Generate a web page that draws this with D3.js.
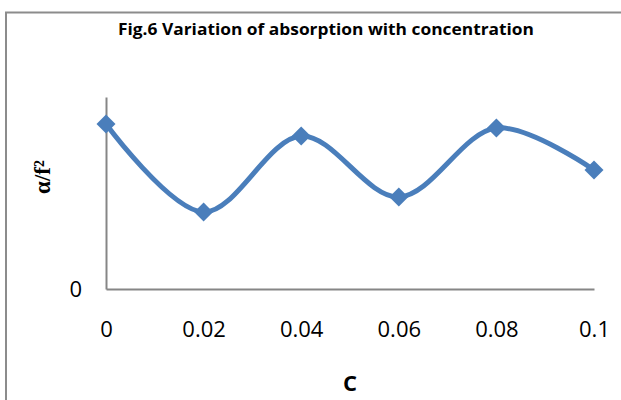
<!DOCTYPE html>
<html>
<head>
<meta charset="utf-8">
<script src="https://cdn.jsdelivr.net/npm/d3@7"></script>
<style>
  body { margin: 0; background: #fff; }
  svg { display: block; }
</style>
</head>
<body>
<div id="chart"></div>
<script>
// --- data (y units are arbitrary, the source shows only 0) ---
const conc = [0, 0.02, 0.04, 0.06, 0.08, 0.1];
const absorption = [10.31, 4.81, 9.56, 5.75, 10.06, 7.44];
const xTicks = [0, 0.02, 0.04, 0.06, 0.08, 0.1];
const xTickLabels = ['0', '0.02', '0.04', '0.06', '0.08', '0.1'];
const yTicks = [0];
const yMax = 12;

// --- sizing ---
const W = 621, H = 400;
const margin = { top: 97, right: 27, bottom: 111, left: 106 };
const width = W - margin.left - margin.right;
const height = H - margin.top - margin.bottom;

const blue = '#4a7ebb';
const axisGrey = '#868686';
const sans = '"Open Sans", sans-serif';

const svg = d3.select('#chart').append('svg')
  .attr('width', W)
  .attr('height', H);

// outer frame of the chart area
svg.append('path')
  .attr('d', `M6,${H + 5} V12.5 H${W + 5}`)
  .attr('fill', 'none')
  .attr('stroke', '#8c8c8c')
  .attr('stroke-width', 2);

// title
svg.append('text')
  .attr('x', 326)
  .attr('y', 35)
  .attr('text-anchor', 'middle')
  .attr('textLength', 416)
  .attr('lengthAdjust', 'spacingAndGlyphs')
  .style('font-family', sans)
  .style('font-weight', 'bold')
  .style('font-size', '16.5px')
  .text('Fig.6 Variation of absorption with concentration');

const plot = svg.append('g')
  .attr('transform', `translate(${margin.left}, ${margin.top})`);

const x = d3.scaleLinear().domain([0, 0.1]).range([0, width]);
const y = d3.scaleLinear().domain([0, yMax]).range([height, 0]);

// axes
const xAxis = d3.axisBottom(x)
  .tickValues(xTicks)
  .tickSize(0)
  .tickPadding(32)
  .tickFormat((d, i) => xTickLabels[i]);

const yAxis = d3.axisLeft(y)
  .tickValues(yTicks)
  .tickSize(0)
  .tickPadding(24)
  .tickFormat(d3.format('d'));

const gx = plot.append('g')
  .attr('class', 'axis axis--x')
  .attr('transform', `translate(0, ${height})`)
  .call(xAxis);

const gy = plot.append('g')
  .attr('class', 'axis axis--y')
  .call(yAxis);

[gx, gy].forEach(g => {
  g.attr('font-size', null).attr('font-family', null);
  g.select('.domain').attr('stroke', axisGrey).attr('stroke-width', 2);
  g.selectAll('text')
    .style('font-family', sans)
    .style('font-size', '22px')
    .attr('fill', '#000');
});
gy.selectAll('text').attr('dy', '0.36em');

// axis titles
svg.append('text')
  .attr('x', margin.left + width / 2)
  .attr('y', 391)
  .attr('text-anchor', 'middle')
  .style('font-family', sans)
  .style('font-weight', 'bold')
  .style('font-size', '22px')
  .text('C');

svg.append('text')
  .attr('transform', 'translate(50, 177) rotate(-90)')
  .attr('text-anchor', 'middle')
  .style('font-family', '"Liberation Serif", "DejaVu Serif", serif')
  .style('font-weight', 'bold')
  .style('font-size', '23px')
  .text('α/f²');

// smoothed series line
const line = d3.line()
  .curve(d3.curveCatmullRom.alpha(0.5))
  .x((d, i) => x(conc[i]))
  .y(d => y(d));

plot.append('path')
  .datum(absorption)
  .attr('fill', 'none')
  .attr('stroke', blue)
  .attr('stroke-width', 5)
  .attr('stroke-linejoin', 'round')
  .attr('d', line);

// diamond markers
const diamond = d3.symbol().type(d3.symbolSquare).size(180);

plot.append('g').selectAll('path.marker')
  .data(absorption)
  .enter().append('path')
  .attr('class', 'marker')
  .attr('d', diamond)
  .attr('transform', (d, i) => `translate(${x(conc[i])}, ${y(d)}) rotate(45)`)
  .attr('fill', blue);
</script>
</body>
</html>
